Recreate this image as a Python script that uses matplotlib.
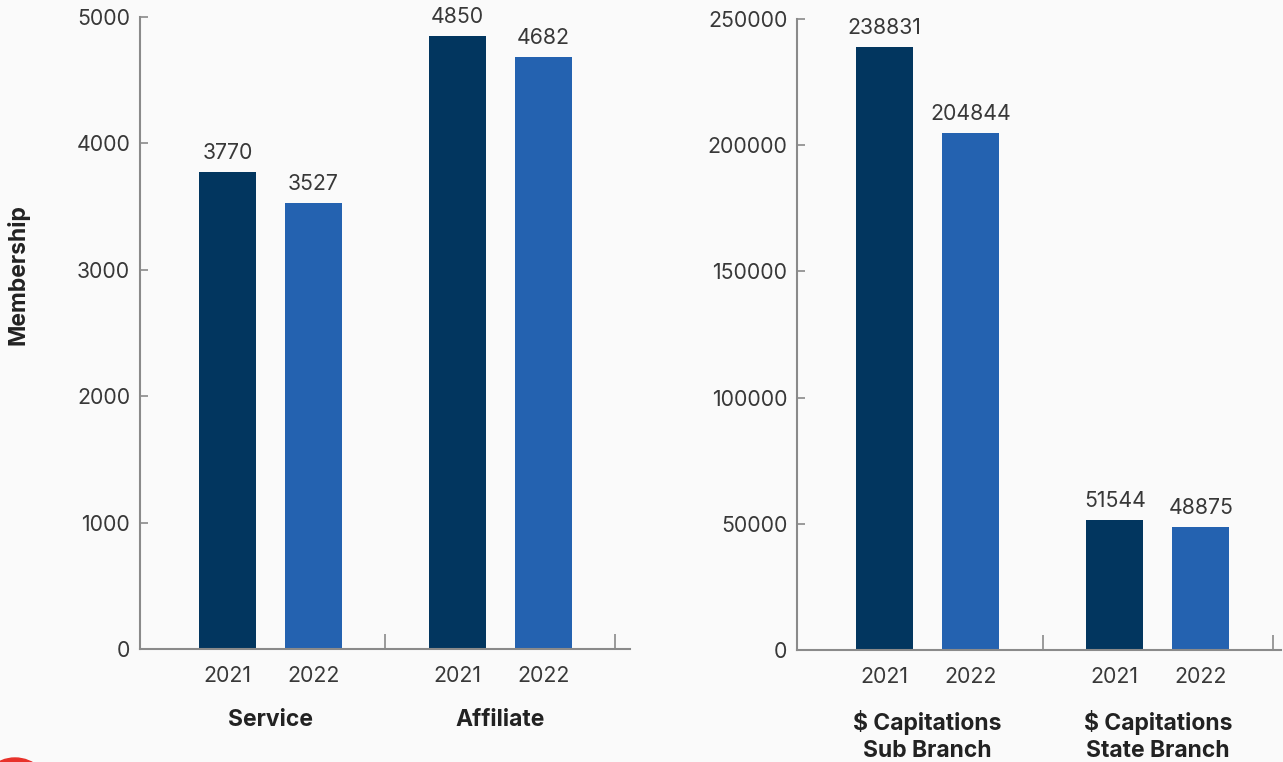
"""Membership and capitation bars, 2021 vs 2022."""

import matplotlib

matplotlib.use("Agg")
import matplotlib.pyplot as plt
from matplotlib.patches import Ellipse

YEARS = ["2021", "2022"]

MEMBER_GROUPS = ["Service", "Affiliate"]
MEMBER_2021 = [3770, 4850]
MEMBER_2022 = [3527, 4682]

CAPITATION_GROUPS = ["$ Capitations\nSub Branch", "$ Capitations\nState Branch"]
CAPITATION_2021 = [238831, 51544]
CAPITATION_2022 = [204844, 48875]

DARK = "#02365f"
LIGHT = "#2462b0"
TEXT = "#383838"
SPINE = "#8a8a8a"
BG = "#fafafa"

plt.rcParams["font.family"] = ["Inter", "DejaVu Sans"]


def draw_panel(ax, groups, vals_2021, vals_2022, ymax, ystep, xmax):
    offset = 0.187
    width = 0.248
    centers = list(range(len(groups)))
    x1 = [c - offset for c in centers]
    x2 = [c + offset for c in centers]
    b1 = ax.bar(x1, vals_2021, width=width, color=DARK)
    b2 = ax.bar(x2, vals_2022, width=width, color=LIGHT)
    for bars in (b1, b2):
        ax.bar_label(bars, padding=6.5, fontsize=15.3, color=TEXT)

    ax.set_facecolor(BG)
    ax.set_xlim(-0.567, xmax)
    ax.set_ylim(0, ymax)
    ax.set_yticks(range(0, ymax + 1, ystep))
    ax.tick_params(axis="y", direction="in", length=6, width=1.2,
                   color=SPINE, labelsize=15.3, labelcolor=TEXT, pad=7)

    # year labels as major ticks without marks, separators as minor ticks
    ax.set_xticks(x1 + x2)
    ax.set_xticklabels([YEARS[0]] * len(groups) + [YEARS[1]] * len(groups))
    ax.tick_params(axis="x", which="major", length=0, labelsize=15.3,
                   labelcolor=TEXT, pad=12.5)
    seps = [c + 0.5 for c in centers]
    ax.set_xticks(seps, minor=True)
    ax.tick_params(axis="x", which="minor", direction="in", length=11,
                   width=1.2, color=SPINE)

    for side in ("top", "right"):
        ax.spines[side].set_visible(False)
    for side in ("left", "bottom"):
        ax.spines[side].set_color(SPINE)
        ax.spines[side].set_linewidth(1.5)

    for c, name in zip(centers, groups):
        ax.annotate(name, xy=(c, 0), xycoords=("data", "axes fraction"),
                    xytext=(0, -43), textcoords="offset points",
                    ha="center", va="top", fontsize=16.5, fontweight="bold",
                    color="#222222", linespacing=1.3)


fig = plt.figure(figsize=(12.83, 7.62), dpi=100, facecolor=BG)

ax_left = fig.add_axes([0.1091, 0.1483, 0.3819, 0.8294])
draw_panel(ax_left, MEMBER_GROUPS, MEMBER_2021, MEMBER_2022, 5000, 1000, 1.563)

ax_right = fig.add_axes([0.6212, 0.1470, 0.3772, 0.8281])
draw_panel(ax_right, CAPITATION_GROUPS, CAPITATION_2021, CAPITATION_2022,
           250000, 50000, 1.535)

fig.text(18 / 1283, 1 - 275 / 762, "Membership", rotation=90, ha="center",
         va="center", fontsize=16.5, fontweight="bold", color="#222222")

fig.patches.append(Ellipse((15 / 1283, 1 - 792 / 762), 70 / 1283, 68 / 762,
                           transform=fig.transFigure, color="#e8312a",
                           figure=fig))

fig.savefig("out.png", dpi=100, facecolor=BG)
